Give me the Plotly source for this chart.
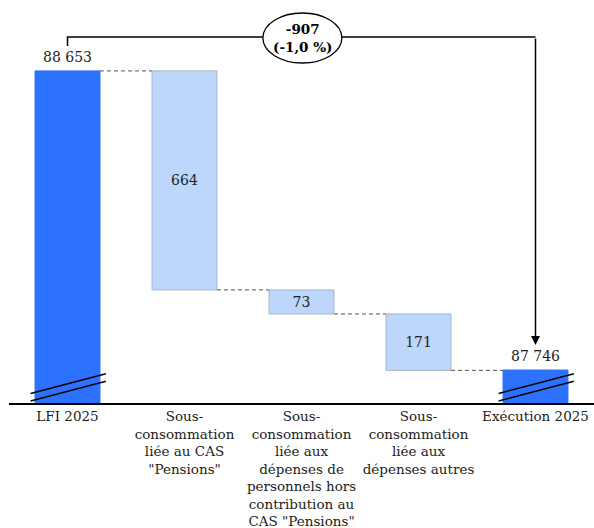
import plotly.graph_objects as go

# Données (millions d'euros)
categories = [
    "LFI 2025",
    "Sous-<br>consommation<br>liée au CAS<br>\"Pensions\"",
    "Sous-<br>consommation<br>liée aux<br>dépenses de<br>personnels hors<br>contribution au<br>CAS \"Pensions\"",
    "Sous-<br>consommation<br>liée aux<br>dépenses autres",
    "Exécution 2025",
]
lfi_2025 = 88653
sous_consommations = [664, 73, 171]
execution_2025 = 87746
axis_floor = 87646  # bas de l'axe interrompu

DARK = "#2D72FF"
LIGHT = "#BDD7FC"
FONT = "DejaVu Serif"

W, H = 594, 528
ML, MR, MT, MB = 9, 0, 0, 125
PLOT_H = H - MT - MB
Y_TOP = 88868


def fmt(v):
    return f"{v:,}".replace(",", "\u00a0")


# Bases et hauteurs de la cascade
bases, heights, colors, lines = [], [], [], []
bases.append(axis_floor)
heights.append(lfi_2025 - axis_floor)
colors.append(DARK)
lines.append(DARK)
level = lfi_2025
step_levels = [lfi_2025]
for v in sous_consommations:
    level -= v
    bases.append(level)
    heights.append(v)
    colors.append(LIGHT)
    lines.append("#A8B4C8")
    step_levels.append(level)
bases.append(axis_floor)
heights.append(execution_2025 - axis_floor)
colors.append(DARK)
lines.append(DARK)

texts = [""] + [str(v) for v in sous_consommations] + [""]

fig = go.Figure(
    go.Bar(
        x=categories,
        y=heights,
        base=bases,
        marker=dict(color=colors, line=dict(color=lines, width=1)),
        text=texts,
        textposition="inside",
        insidetextanchor="middle",
        textfont=dict(family=FONT, size=14, color="#222"),
        textangle=0,
        hoverinfo="skip",
    )
)

HALF = 0.2775  # demi-largeur des barres (unités de catégorie)
shapes = []

# Traits pointillés entre les paliers
for i, lv in enumerate(step_levels):
    shapes.append(dict(
        type="line", xref="x", yref="y",
        x0=i + HALF, x1=i + 1 - HALF, y0=lv, y1=lv,
        line=dict(color="#555", width=1, dash="4px,3px"),
    ))


def py(px):
    """Position verticale en pixels -> coordonnée papier."""
    return (PLOT_H - px) / PLOT_H


# Marques d'interruption d'axe sur les barres de total
for i in (0, 4):
    for off in (0, 7.5):
        shapes.append(dict(
            type="line", xref="x", yref="paper",
            x0=i - 0.315, x1=i + 0.328,
            y0=py(393.5 + off), y1=py(373.7 + off),
            line=dict(color="black", width=1.5),
        ))

# Accolade reliant LFI et exécution, interrompue par l'ellipse
ELL_L, ELL_R = 2 - 0.33, 2 + 0.345
bracket_y = py(37)
shapes.append(dict(
    type="path", xref="x", yref="paper",
    path=f"M 0 {py(46)} L 0 {bracket_y} L {ELL_L} {bracket_y}",
    line=dict(color="black", width=1.5),
))
shapes.append(dict(
    type="line", xref="x", yref="paper",
    x0=ELL_R, x1=4, y0=bracket_y, y1=bracket_y,
    line=dict(color="black", width=1.5),
))

# Ellipse de l'écart total
shapes.append(dict(
    type="circle", xref="x", yref="paper",
    x0=ELL_L, x1=ELL_R, y0=py(63), y1=py(13),
    line=dict(color="black", width=1.3), fillcolor="white",
))

ecart = execution_2025 - lfi_2025
pct = ecart / lfi_2025 * 100
pct_txt = f"{pct:.1f}".replace(".", ",")

annotations = [
    dict(x=0, y=lfi_2025, xref="x", yref="y", text=fmt(lfi_2025),
         showarrow=False, yanchor="bottom", yshift=4,
         font=dict(family=FONT, size=14, color="#222")),
    dict(x=4, y=execution_2025, xref="x", yref="y", text=fmt(execution_2025),
         showarrow=False, yanchor="bottom", yshift=4,
         font=dict(family=FONT, size=14, color="#222")),
    dict(x=2.01, y=py(37.5), xref="x", yref="paper", yanchor="middle",
         text=f"<b>{ecart}</b><br><b>({pct_txt}\u00a0%)</b>",
         showarrow=False, font=dict(family=FONT, size=13.5, color="black")),
    # Flèche vers l'exécution
    dict(x=4, y=py(345), xref="x", yref="y domain",
         ax=4, ay=bracket_y, axref="x", ayref="y domain",
         text="", showarrow=True, arrowhead=2, arrowsize=1.2,
         arrowwidth=1.5, arrowcolor="black", standoff=0),
]

fig.update_layout(
    width=W, height=H,
    margin=dict(l=ML, r=MR, t=MT, b=MB),
    paper_bgcolor="white", plot_bgcolor="white",
    bargap=0.445,
    showlegend=False,
    shapes=shapes,
    annotations=annotations,
    font=dict(family=FONT, size=13.5, color="#222"),
    xaxis=dict(
        showline=True, linecolor="black", linewidth=1.5,
        ticks="", showgrid=False, zeroline=False,
        tickfont=dict(family=FONT, size=13.5, color="#222"),
        automargin=False,
        fixedrange=True,
    ),
    yaxis=dict(
        range=[axis_floor, Y_TOP], visible=False, automargin=False,
        showgrid=False, zeroline=False, fixedrange=True,
    ),
)

fig.write_html("out.html")
